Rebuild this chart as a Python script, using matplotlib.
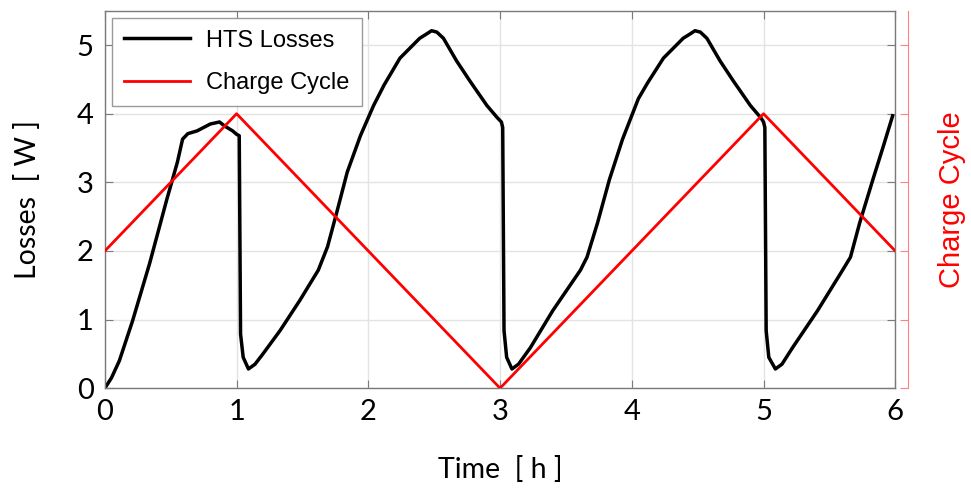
import matplotlib
matplotlib.use("Agg")
import matplotlib.pyplot as plt

# HTS losses (W) vs time (h)
loss_t = [0.0, 0.05, 0.11, 0.21, 0.34, 0.47, 0.55, 0.59, 0.63, 0.70, 0.80, 0.87, 0.91, 0.97, 1.00,
          1.02, 1.03, 1.05, 1.09, 1.14, 1.20, 1.33, 1.48, 1.62, 1.69, 1.76, 1.84, 1.94, 2.04,
          2.12, 2.24, 2.39, 2.44, 2.48, 2.52, 2.57, 2.67, 2.77, 2.90, 2.98, 3.01,
          3.02, 3.03, 3.05, 3.09, 3.14, 3.23, 3.40, 3.61, 3.66, 3.74, 3.83, 3.93, 4.05,
          4.12, 4.24, 4.39, 4.44, 4.48, 4.52, 4.57, 4.67, 4.77, 4.90, 4.98, 5.00,
          5.01, 5.02, 5.04, 5.09, 5.14, 5.22, 5.41, 5.60, 5.66, 5.73, 5.83, 5.91, 5.98]
loss_w = [0.0, 0.15, 0.40, 0.98, 1.82, 2.75, 3.29, 3.63, 3.71, 3.75, 3.85, 3.88, 3.82, 3.75, 3.70,
          3.68, 0.79, 0.45, 0.28, 0.35, 0.50, 0.84, 1.28, 1.72, 2.06, 2.56, 3.15, 3.68, 4.12,
          4.42, 4.81, 5.10, 5.16, 5.21, 5.19, 5.10, 4.77, 4.48, 4.12, 3.94, 3.88,
          3.80, 0.84, 0.45, 0.28, 0.35, 0.59, 1.13, 1.72, 1.91, 2.41, 3.04, 3.63, 4.22,
          4.45, 4.81, 5.10, 5.16, 5.21, 5.19, 5.10, 4.77, 4.48, 4.12, 3.94, 3.88,
          3.80, 0.84, 0.45, 0.28, 0.35, 0.59, 1.13, 1.72, 1.91, 2.41, 3.04, 3.53, 3.97]

# charge cycle (triangle wave)
cycle_t = [0, 1, 3, 5, 6]
cycle_v = [2, 4, 0, 4, 2]

x_ticks = [0, 1, 2, 3, 4, 5, 6]
y_ticks = [0, 1, 2, 3, 4, 5]

fig = plt.figure(figsize=(9.71, 4.92), dpi=100)
ax = fig.add_axes([0.108, 0.211, 0.814, 0.767])
ax2 = ax.twinx()

tickfont = "Lato"
ax.set_xlim(0, 6)
ax.set_ylim(0, 5.5)
ax.set_xticks(x_ticks)
ax.set_yticks(y_ticks)
ax.grid(True, color="#e3e3e3", lw=1)
ax.set_axisbelow(True)
for s in ax.spines.values():
    s.set_color("#7a7a7a")
    s.set_linewidth(1.0)
ax.tick_params(direction="in", length=6, color="#7a7a7a", top=True, right=True,
               labelsize=21, pad=8)
for lb in ax.get_xticklabels() + ax.get_yticklabels():
    lb.set_fontfamily(tickfont)

h1, = ax.plot(loss_t, loss_w, color="black", lw=2.5, label="HTS Losses")
h2, = ax2.plot(cycle_t, cycle_v, color="red", lw=2.0, label="Charge Cycle")
ax2.set_xlim(0, 6)
ax2.set_ylim(0, 5.5)

# right axis, offset and red, no tick labels
ax2.spines["right"].set_position(("outward", 9))
ax2.spines["right"].set_color("#ff8080")
for side in ["left", "top", "bottom"]:
    ax2.spines[side].set_visible(False)
ax2.set_yticks(y_ticks)
ax2.set_yticklabels([])
ax2.tick_params(axis="y", direction="in", length=6, color="#ff8080")
ax2.set_ylabel("Charge Cycle", color="red", fontsize=21, family="Liberation Sans", labelpad=18)

ax.set_xlabel("Time  [ h ]", fontsize=20.5, family=tickfont, labelpad=22)
ax.set_ylabel("Losses  [ W ]", fontsize=20.5, family=tickfont, labelpad=26)

leg = ax.legend(handles=[h1, h2], loc="upper left", fancybox=False, framealpha=1,
                edgecolor="#9a9a9a", handlelength=2.8, borderaxespad=0.3,
                borderpad=0.5, labelspacing=0.85, handletextpad=0.7,
                prop={"family": "Liberation Sans", "size": 17})
leg.get_frame().set_linewidth(1.0)

fig.savefig("out.png", dpi=100)
